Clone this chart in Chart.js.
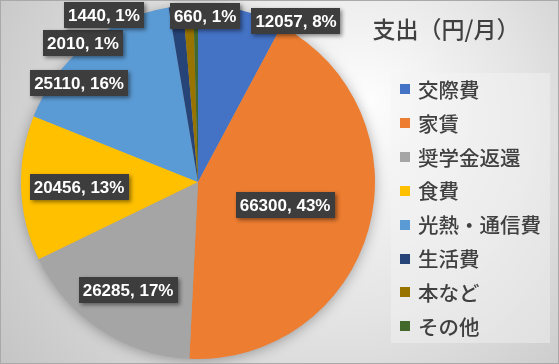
<!DOCTYPE html>
<html>
<head>
<meta charset="utf-8">
<script src="https://cdn.jsdelivr.net/npm/chart.js@4.4.1/dist/chart.umd.min.js"></script>
<style>
html,body{margin:0;padding:0;background:#fff;}
#wrap{position:relative;width:559px;height:364px;}
</style>
</head>
<body>
<div id="wrap"><canvas id="c" width="559" height="364"></canvas></div>
<script>
// ---- data ----
const categories = ['交際費','家賃','奨学金返還','食費','光熱・通信費','生活費','本など','その他'];
const values = [12057, 66300, 26285, 20456, 25110, 2010, 1440, 660];
const percentLabels = ['8%','43%','17%','13%','16%','1%','1%','1%'];
const titleText = '支出（円/月）';

// ---- styles ----
const colors = ['#4472C4','#ED7D31','#A5A5A5','#FFC000','#5B9BD5','#264478','#997300','#43682B'];
// label centre offsets, in units of the pie radius, relative to pie centre
const labelOffsets = [
  [0.554,-0.910],[0.492,0.130],[-0.395,0.610],[-0.672,0.028],
  [-0.672,-0.559],[-0.650,-0.785],[-0.531,-0.944],[0.040,-0.938]
];

const bgPlugin = {
  id:'bg',
  beforeDraw(chart){
    const ctx = chart.ctx, w = chart.width, h = chart.height;
    ctx.save();
    const g = ctx.createRadialGradient(370,100,0,300,160,420);
    g.addColorStop(0,'#fdfdfd');
    g.addColorStop(0.45,'#e4e4e4');
    g.addColorStop(1,'#bdbdbd');
    ctx.fillStyle = g;
    ctx.fillRect(0,0,w,h);
    ctx.restore();
  },
  beforeDatasetsDraw(chart){
    const arc = chart.getDatasetMeta(0).data[0];
    if(!arc) return;
    const ctx = chart.ctx;
    ctx.save();
    ctx.shadowColor = 'rgba(0,0,0,0.35)';
    ctx.shadowBlur = 14;
    ctx.shadowOffsetX = 0;
    ctx.shadowOffsetY = 2;
    ctx.fillStyle = '#a0a0a0';
    ctx.beginPath();
    ctx.arc(arc.x, arc.y, arc.outerRadius-1, 0, Math.PI*2);
    ctx.fill();
    ctx.restore();
  },
  afterDatasetsDraw(chart){
    const ctx = chart.ctx;
    const meta = chart.getDatasetMeta(0);
    ctx.save();
    ctx.font = 'bold 17px "Liberation Sans", Arial, sans-serif';
    ctx.textAlign = 'center';
    ctx.textBaseline = 'middle';
    meta.data.forEach((arc,i)=>{
      const R = arc.outerRadius;
      const cx = arc.x + labelOffsets[i][0]*R;
      const cy = arc.y + labelOffsets[i][1]*R;
      const txt = values[i] + ', ' + percentLabels[i];
      const tw = ctx.measureText(txt).width;
      const bw = tw + 8, bh = 26;
      ctx.save();
      ctx.shadowColor = 'rgba(0,0,0,0.45)';
      ctx.shadowBlur = 4;
      ctx.shadowOffsetX = 2;
      ctx.shadowOffsetY = 2;
      ctx.fillStyle = '#3d3d3d';
      ctx.fillRect(Math.round(cx-bw/2), Math.round(cy-bh/2), Math.round(bw), bh);
      ctx.restore();
      ctx.fillStyle = '#ffffff';
      ctx.fillText(txt, cx, cy+1);
    });
    ctx.restore();
  },
  afterDraw(chart){
    const ctx = chart.ctx;
    ctx.save();
    // title
    ctx.fillStyle = '#404040';
    ctx.font = '500 23px "Noto Sans CJK JP", sans-serif';
    ctx.textAlign = 'center';
    ctx.textBaseline = 'middle';
    ctx.fillText(titleText, 446, 29);
    // legend box
    ctx.fillStyle = 'rgba(245,245,245,0.45)';
    ctx.fillRect(391, 73, 159, 270);
    ctx.font = '500 20.5px "Noto Sans CJK JP", sans-serif';
    ctx.textAlign = 'left';
    categories.forEach((c,i)=>{
      const y = 89 + i*33.9;
      ctx.fillStyle = colors[i];
      ctx.fillRect(400, Math.round(y-5), 10, 10);
      ctx.fillStyle = '#404040';
      ctx.fillText(c, 418, y+1);
    });
    // outer border
    ctx.strokeStyle = '#a9a9a9';
    ctx.lineWidth = 1;
    ctx.strokeRect(0.5,0.5,chart.width-1,chart.height-1);
    ctx.restore();
  }
};

new Chart(document.getElementById('c'), {
  type:'pie',
  data:{
    labels: categories,
    datasets:[{ data: values, backgroundColor: colors, borderWidth: 0 }]
  },
  options:{
    responsive:false,
    animation:false,
    layout:{ padding:{ left:21, right:184, top:5, bottom:5 } },
    plugins:{ legend:{display:false}, tooltip:{enabled:false}, title:{display:false} }
  },
  plugins:[bgPlugin]
});
</script>
</body>
</html>
